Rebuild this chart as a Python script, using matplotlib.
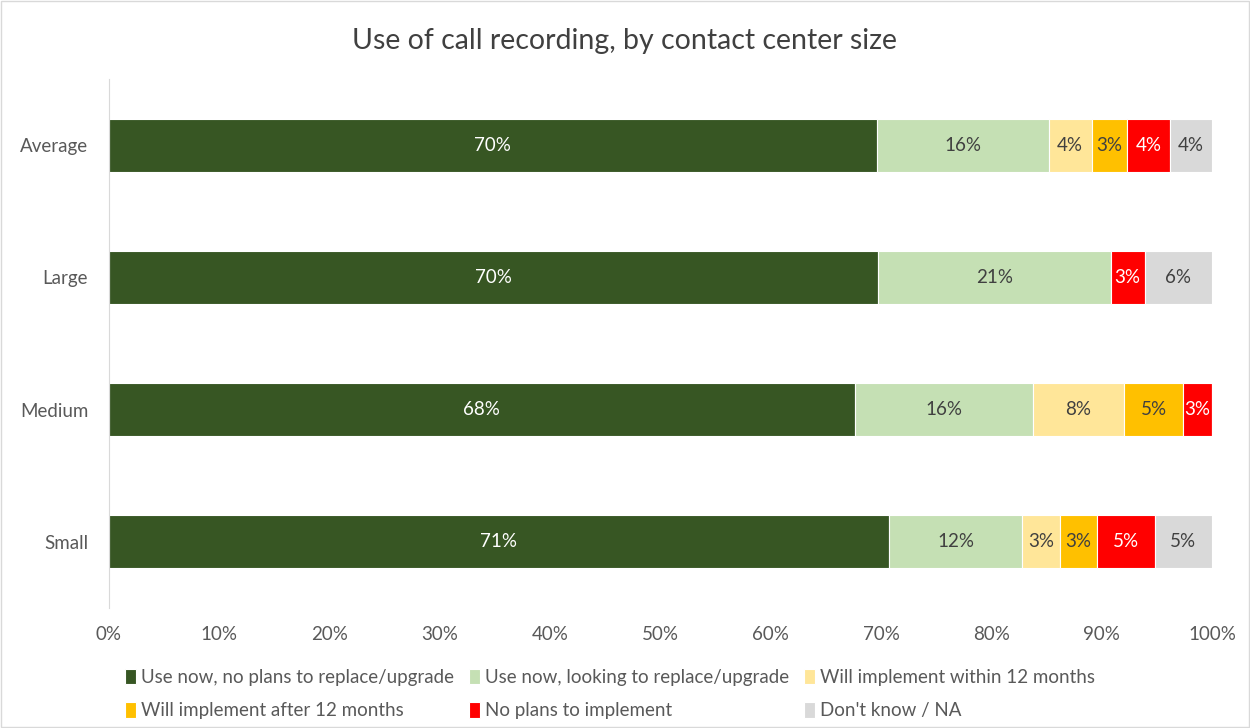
import matplotlib.pyplot as plt
from matplotlib.patches import Rectangle

categories = ["Average", "Large", "Medium", "Small"]
series_names = ["Use now, no plans to replace/upgrade",
                "Use now, looking to replace/upgrade",
                "Will implement within 12 months",
                "Will implement after 12 months",
                "No plans to implement",
                "Don't know / NA"]
use_no_plans = [69.6, 69.7, 67.6, 70.7]
use_replace = [15.6, 21.1, 16.2, 12.1]
within_12 = [3.9, 0.0, 8.2, 3.4]
after_12 = [3.2, 0.0, 5.4, 3.4]
no_plans = [3.9, 3.1, 2.6, 5.2]
dont_know = [3.8, 6.1, 0.0, 5.2]

colors = ["#375623", "#C5E0B4", "#FFE699", "#FFC000", "#FF0000", "#D9D9D9"]
label_colors = ["white", "#404040", "#404040", "#404040", "white", "#404040"]

plt.rcParams['font.family'] = ['Lato', 'DejaVu Sans']

fig = plt.figure(figsize=(12.5, 7.28), dpi=100)
ax = fig.add_axes([0.0872, 0.1648, 0.8824, 0.7267])

data = [use_no_plans, use_replace, within_12, after_12, no_plans, dont_know]
ypos = range(len(categories))
left = [0.0] * len(categories)
for vals, name, col, lc in zip(data, series_names, colors, label_colors):
    bars = ax.barh(ypos, vals, left=left, height=0.4, color=col, label=name,
                   edgecolor="white", linewidth=0.8)
    for b, v, l in zip(bars, vals, left):
        if v > 0:
            ax.text(l + v / 2, b.get_y() + b.get_height() / 2, "{:.0f}%".format(v),
                    ha="center", va="center", color=lc, fontsize=13.5)
    left = [a + b for a, b in zip(left, vals)]

ax.set_xlim(0, 100)
ax.set_ylim(3.5, -0.5)
ax.set_yticks(list(ypos))
ax.set_yticklabels(categories, fontsize=13.5, color="#595959")
ax.set_xticks(range(0, 101, 10))
ax.set_xticklabels(["{}%".format(x) for x in range(0, 101, 10)], fontsize=13.5, color="#595959")
ax.tick_params(axis="y", length=0, pad=15)
ax.tick_params(axis="x", length=0, pad=13)
for s in ["top", "right", "bottom"]:
    ax.spines[s].set_visible(False)
ax.spines["left"].set_color("#D9D9D9")

fig.suptitle("Use of call recording, by contact center size", y=0.962,
             fontsize=20.5, color="#404040")

# legend filled row by row like the original
handles, labels = ax.get_legend_handles_labels()
order = [0, 3, 1, 4, 2, 5]
fig.legend([handles[i] for i in order], [labels[i] for i in order],
           loc="lower left", bbox_to_anchor=(0.1, 0.012), ncol=3, frameon=False,
           fontsize=13.5, labelcolor="#595959", handlelength=0.6, handleheight=0.9,
           handletextpad=0.25, columnspacing=0.8, labelspacing=0.85,
           borderpad=0, borderaxespad=0)

fig.patches.append(Rectangle((0.001, 0.001), 0.998, 0.997, transform=fig.transFigure,
                             fill=False, edgecolor="#D9D9D9", linewidth=1))

fig.savefig("out.png", dpi=100)
